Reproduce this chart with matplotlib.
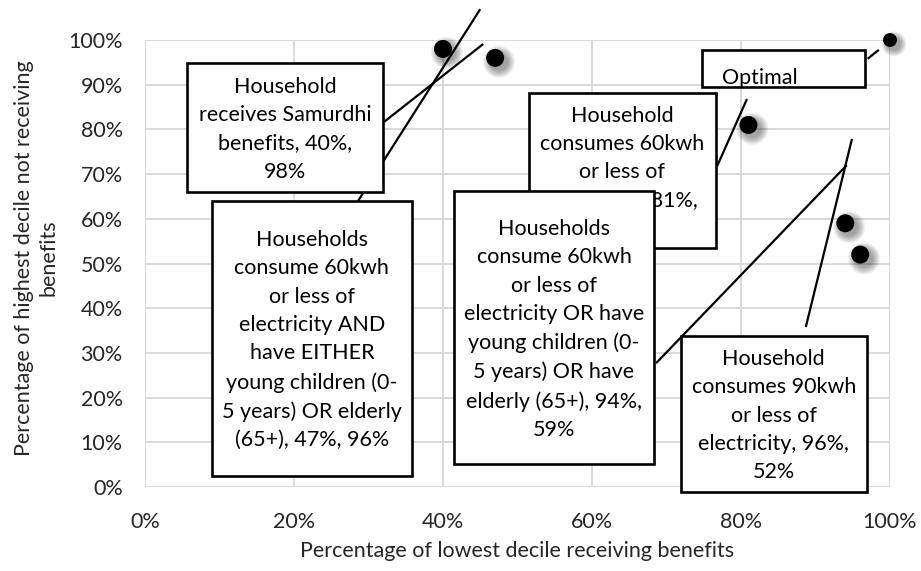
import matplotlib
matplotlib.use("Agg")
import matplotlib.pyplot as plt
import matplotlib.transforms as mtransforms
from matplotlib.patches import Rectangle
from matplotlib.ticker import PercentFormatter

# --- data -------------------------------------------------------------
x_vals = [40, 47, 81, 94, 96, 100]   # % of lowest decile receiving benefits
y_vals = [98, 96, 81, 59, 52, 100]   # % of highest decile not receiving benefits
label_templates = [
    "Household\nreceives Samurdhi\nbenefits, {x},\n{y}",
    "Households\nconsume 60kwh\nor less of\nelectricity AND\nhave EITHER\nyoung children (0-\n5 years) OR elderly\n(65+), {x}, {y}",
    "Household\nconsumes 60kwh\nor less of\nelectricity, {x},\n{y}",
    "Households\nconsume 60kwh\nor less of\nelectricity OR have\nyoung children (0-\n5 years) OR have\nelderly (65+), {x},\n{y}",
    "Household\nconsumes 90kwh\nor less of\nelectricity, {x},\n{y}",
    "Optimal",
]
x_ticks = [0, 20, 40, 60, 80, 100]
y_ticks = [0, 10, 20, 30, 40, 50, 60, 70, 80, 90, 100]
x_title = "Percentage of lowest decile receiving benefits"
y_title = "Percentage of highest decile not receiving\nbenefits"

# --- label layout (box extents and leader lines, axis units) ------------
boxes = [
    (5.6, 32.0, 66.0, 94.9),
    (9.0, 35.8, 2.5, 64.0),
    (51.5, 76.6, 53.5, 88.1),
    (41.5, 68.3, 5.1, 66.2),
    (71.9, 96.9, -1.1, 33.8),
    (74.8, 96.6, 89.5, 97.8),
]
leaders = [
    ((32.1, 81.7), (45.4, 99.1)),
    ((28.6, 64.0), (45.0, 106.9)),
    ((76.8, 71.8), (80.8, 86.8)),
    ((68.6, 27.7), (94.2, 72.0)),
    ((88.7, 35.8), (94.9, 77.9)),
    ((97.0, 95.8), (98.5, 97.8)),
]

FONT = "Lato"
FS = 15.5
plt.rcParams["font.family"] = [FONT, "DejaVu Sans"]

W, H, DPI = 921, 571, 100
fig = plt.figure(figsize=(W / DPI, H / DPI), dpi=DPI)
ax = fig.add_axes([145 / W, 1 - 487 / H, 745 / W, 447 / H])
ax.set_xlim(0, 100)
ax.set_ylim(0, 100)

ax.set_xticks(x_ticks)
ax.set_yticks(y_ticks)
ax.xaxis.set_major_formatter(PercentFormatter(100, decimals=0))
ax.yaxis.set_major_formatter(PercentFormatter(100, decimals=0))
ax.tick_params(length=0, labelsize=FS, colors="#262626")
ax.tick_params(axis="x", pad=18)
ax.tick_params(axis="y", pad=16)
for s in ax.spines.values():
    s.set_visible(False)
ax.grid(True, color="#d9d9d9", lw=1.4, zorder=0)
ax.set_axisbelow(True)

# markers with a soft drop shadow
sizes = [168 if i < 5 else 100 for i in range(len(x_vals))]
for k in range(7):
    off = mtransforms.offset_copy(ax.transData, fig=fig, x=2.8, y=-2.8, units="points")
    grow = 1.0 + 0.13 * k
    ax.scatter(x_vals, y_vals, s=[s * grow ** 2 for s in sizes], color="black",
               alpha=0.06, linewidths=0, transform=off, zorder=2, clip_on=False)
ax.scatter(x_vals, y_vals, s=sizes, color="black", linewidths=0, zorder=3,
           clip_on=False)

# leader lines
for (p0, p1) in leaders:
    ax.plot([p0[0], p1[0]], [p0[1], p1[1]], color="black", lw=1.6, zorder=4,
            clip_on=False, solid_capstyle="butt")

# callout boxes
for i, (tmpl, (x0, x1, y0, y1)) in enumerate(zip(label_templates, boxes)):
    z = 5 + i * 0.2
    ax.add_patch(Rectangle((x0, y0), x1 - x0, y1 - y0, facecolor="white",
                           edgecolor="black", lw=1.9, zorder=z, clip_on=False))
    txt = tmpl.format(x=f"{x_vals[i]}%", y=f"{y_vals[i]}%")
    if tmpl == "Optimal":
        ax.text(77.4, 91.6, txt, ha="left", va="center", fontsize=FS,
                zorder=z + 0.1, clip_on=False)
    else:
        ax.text((x0 + x1) / 2, (y0 + y1) / 2 - 0.4, txt, ha="center",
                va="center", multialignment="center", fontsize=FS,
                linespacing=1.52, zorder=z + 0.1, clip_on=False)

fig.text(517.5 / W, 1 - 551 / H, x_title, ha="center", va="center",
         fontsize=FS, color="#262626")
fig.text(36 / W, 1 - 258 / H, y_title, ha="center", va="center",
         rotation=90, fontsize=FS, color="#262626", multialignment="center",
         linespacing=1.25)

fig.savefig("out.png", dpi=DPI)
